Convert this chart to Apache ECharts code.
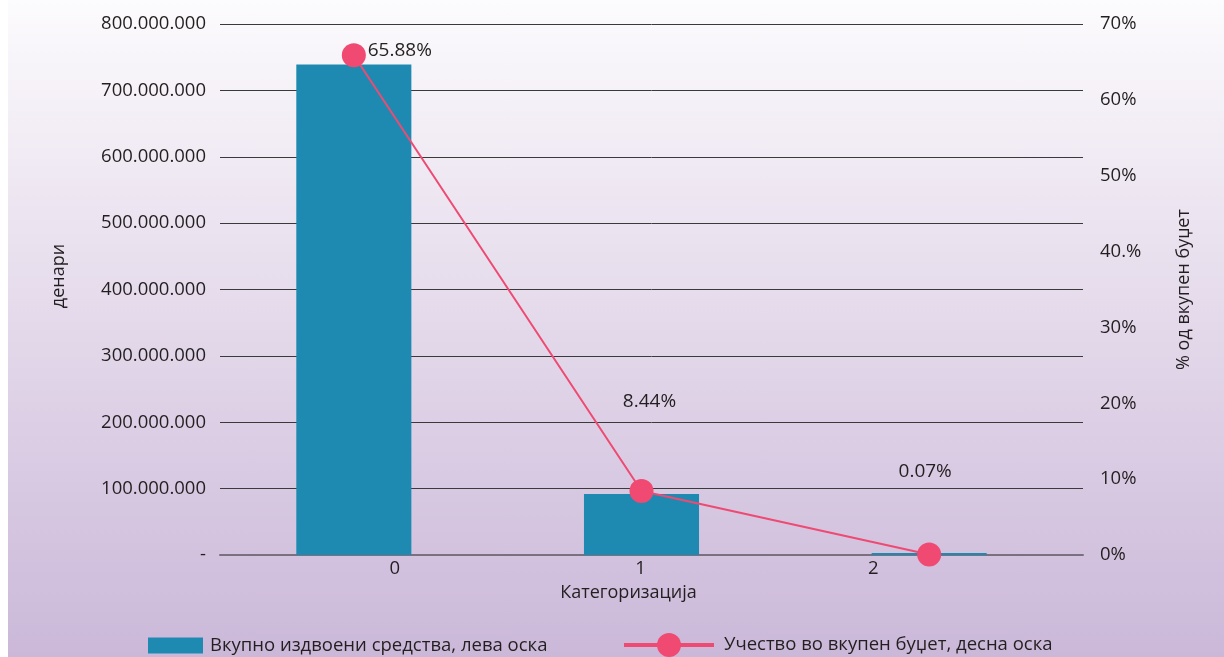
<!DOCTYPE html>
<html>
<head>
<meta charset="utf-8">
<script src="https://cdn.jsdelivr.net/npm/echarts@6/dist/echarts.min.js"></script>
<style>
  html, body { margin: 0; padding: 0; background: #fff; }
  #chart {
    position: absolute; left: 8px; top: 0; width: 1216px; height: 657px;
    background: linear-gradient(to bottom, #fcfbfd 0%, #e6dcec 45%, #cbb8d9 100%);
  }
</style>
</head>
<body>
<div id="chart"></div>
<script>
// data
const categories = ['0', '1', '2'];
const allocated = [739000000, 92000000, 3000000];     // денари, left axis
const shareOfBudget = [65.88, 8.44, 0.07];            // %, right axis
const leftTicks = ['-', '100.000.000', '200.000.000', '300.000.000', '400.000.000',
  '500.000.000', '600.000.000', '700.000.000', '800.000.000'];
const rightTicks = ['0%', '10%', '20%', '30%', '40.%', '50%', '60%', '70%'];

const barName = 'Вкупно издвоени средства, лева оска';
const lineName = 'Учество во вкупен буџет, десна оска';

const font = 'Open Sans';
const txt = '#231f20';

const chart = echarts.init(document.getElementById('chart'), null, { renderer: 'canvas' });

// label offsets per point (label placements in the original are uneven)
const labelOffsets = [[46, 22], [8, -63], [-4, -56]];
// category label shifts
const catPad = [[0, 0, 0, 62], [0, 22, 0, 0], [0, 132, 0, 0]];

chart.setOption({
  animation: false,
  textStyle: { fontFamily: font },
  // grid 0: axes + gridlines, grid 1: the marks (sit a bit left of the band centres)
  grid: [
    { left: 212, right: 141, top: 24, bottom: 102 },
    { left: 202, right: 151, top: 24, bottom: 102 }
  ],
  legend: [{
    left: 135, top: 631, itemWidth: 55, itemHeight: 16,
    textStyle: { fontFamily: font, fontSize: 18.5, color: txt, padding: [0, 0, 0, 2] },
    data: [{ name: barName, icon: 'rect' }]
  }, {
    left: 609, top: 628, itemWidth: 90, itemHeight: 30,
    lineStyle: { width: 4 },
    textStyle: { fontFamily: font, fontSize: 18.5, color: txt, padding: [0, 0, 0, 5] },
    data: [{ name: lineName }]
  }],
  xAxis: [{
    type: 'category',
    gridIndex: 0,
    data: categories.map((c, i) => ({ value: c, textStyle: { padding: catPad[i] } })),
    name: 'Категоризација',
    nameLocation: 'middle',
    nameGap: 29,
    nameTextStyle: { fontSize: 18, color: txt, padding: [0, 46, 0, 0] },
    axisLine: { lineStyle: { color: '#7a7180', width: 2 } },
    axisTick: { show: false },
    axisLabel: { fontSize: 18.5, color: txt, margin: 4 }
  }, {
    type: 'category',
    gridIndex: 1,
    data: categories,
    show: false
  }],
  yAxis: [{
    type: 'value',
    gridIndex: 0,
    min: 0, max: 800000000, interval: 100000000,
    name: 'денари',
    nameLocation: 'middle',
    nameGap: 152,
    nameRotate: 90,
    nameTextStyle: { fontSize: 18, color: txt, padding: [0, 0, 0, 27] },
    axisLine: { show: false },
    axisTick: { show: false },
    splitLine: { lineStyle: { color: '#3a3a3a', width: 1 } },
    axisLabel: {
      fontSize: 18.5, color: txt, margin: 14,
      formatter: v => leftTicks[Math.round(v / 100000000)]
    }
  }, {
    type: 'value',
    gridIndex: 0,
    position: 'right',
    min: 0, max: 70, interval: 10,
    name: '% од вкупен буџет',
    nameLocation: 'middle',
    nameGap: 92,
    nameRotate: 90,
    nameTextStyle: { fontSize: 18, color: txt },
    axisLine: { show: false },
    axisTick: { show: false },
    splitLine: { show: false },
    axisLabel: {
      fontSize: 18.5, color: txt, margin: 17,
      formatter: v => rightTicks[Math.round(v / 10)]
    }
  }, {
    type: 'value', gridIndex: 1, min: 0, max: 800000000, show: false, splitLine: { show: false }
  }, {
    type: 'value', gridIndex: 1, min: 0, max: 70, show: false, splitLine: { show: false }
  }],
  series: [{
    name: barName,
    type: 'bar',
    xAxisIndex: 1,
    yAxisIndex: 2,
    barWidth: '40%',
    itemStyle: { color: '#1f8ab1' },
    data: allocated
  }, {
    name: lineName,
    type: 'line',
    xAxisIndex: 1,
    yAxisIndex: 3,
    symbol: 'circle',
    symbolSize: 24,
    lineStyle: { color: '#ee4a72', width: 2 },
    itemStyle: { color: '#f04a73' },
    data: shareOfBudget.map((v, i) => ({
      value: v,
      label: {
        show: true, position: 'top', offset: labelOffsets[i],
        fontSize: 19, color: txt, fontFamily: font,
        formatter: p => p.value.toFixed(2) + '%'
      }
    }))
  }]
});
</script>
</body>
</html>
